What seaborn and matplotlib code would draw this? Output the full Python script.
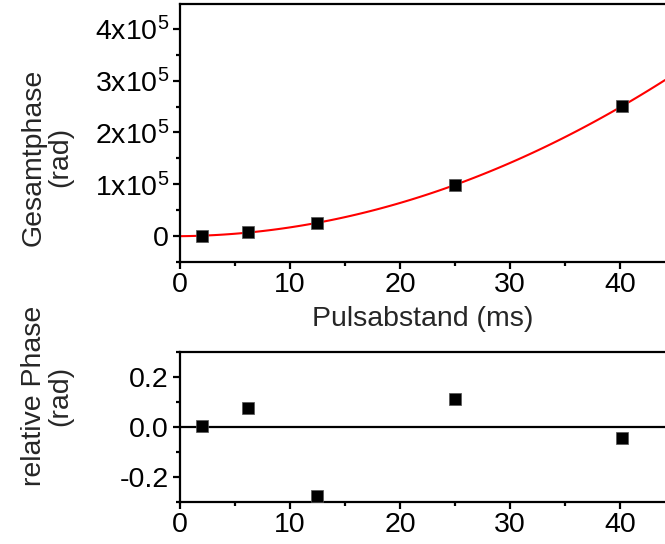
import numpy as np
import pandas as pd
import matplotlib
matplotlib.use("Agg")
import matplotlib.pyplot as plt
from matplotlib.ticker import MultipleLocator, FixedLocator
import seaborn as sns

# ---- data ----
pulse_spacing_ms = [2.0, 6.2, 12.5, 25.0, 40.2]
total_phase_rad = [600, 7000, 26000, 98500, 251000]
relative_phase_rad = [0.004, 0.077, -0.276, 0.111, -0.042]
top_ytick_vals = [0, 1e5, 2e5, 3e5, 4e5]
top_ytick_labels = ["0", "1x10$^5$", "2x10$^5$", "3x10$^5$", "4x10$^5$"]
bottom_ytick_vals = [-0.2, 0.0, 0.2]
bottom_ytick_labels = ["-0.2", "0.0", "0.2"]
xtick_vals = [0, 10, 20, 30, 40]

df = pd.DataFrame({"x": pulse_spacing_ms, "y": total_phase_rad, "r": relative_phase_rad})

sns.set_theme(style="ticks")
plt.rcParams["font.family"] = ["Liberation Sans", "DejaVu Sans"]
plt.rcParams["mathtext.fontset"] = "custom"
plt.rcParams["mathtext.rm"] = "Liberation Sans"
plt.rcParams["mathtext.default"] = "regular"

W, H = 665, 544
fig = plt.figure(figsize=(W / 100, H / 100), dpi=100)
left = 180 / W
ax1 = fig.add_axes([left, 1 - 262 / H, 1 - left, (262 - 4) / H])
ax2 = fig.add_axes([left, 1 - 502 / H, 1 - left, (502 - 352) / H])

XMAX = 44.1
for ax in (ax1, ax2):
    ax.set_xlim(0, XMAX)
    ax.spines["right"].set_visible(False)
    for s in ("left", "top", "bottom"):
        ax.spines[s].set_linewidth(1.6)
        ax.spines[s].set_color("black")
    ax.xaxis.set_major_locator(FixedLocator(xtick_vals))
    ax.xaxis.set_minor_locator(MultipleLocator(5))
    ax.tick_params(which="major", direction="out", length=5, width=1.6,
                   labelsize=20.5, pad=3, colors="black")
    ax.tick_params(which="minor", direction="out", length=3, width=1.6, colors="black")
    ax.tick_params(axis="x", which="major", pad=2)
    ax.set_facecolor("white")

# top panel
ax1.set_ylim(-0.5e5, 4.48e5)
sns.regplot(data=df, x="x", y="y", order=2, ci=None, scatter=False, truncate=False,
            line_kws={"color": "#ff0000", "linewidth": 1.5}, ax=ax1)
ax1.set_xlim(0, XMAX)
sns.scatterplot(data=df, x="x", y="y", marker="s", s=80, color="black",
                edgecolor="#555555", linewidth=0.5, ax=ax1, zorder=5)
ax1.yaxis.set_major_locator(FixedLocator(top_ytick_vals))
ax1.set_yticklabels(top_ytick_labels)
ax1.yaxis.set_minor_locator(MultipleLocator(0.5e5))
ax1.set_ylabel("")
ax1.set_xlabel("Pulsabstand (ms)", fontsize=20.5, labelpad=6)

# bottom panel
ax2.set_ylim(-0.3, 0.3)
ax2.axhline(0, color="black", linewidth=1.6, zorder=1)
sns.scatterplot(data=df, x="x", y="r", marker="s", s=80, color="black",
                edgecolor="#555555", linewidth=0.5, ax=ax2, zorder=5)
ax2.yaxis.set_major_locator(FixedLocator(bottom_ytick_vals))
ax2.set_yticklabels(bottom_ytick_labels)
ax2.yaxis.set_minor_locator(MultipleLocator(0.1))
ax2.set_ylabel("")
ax2.set_xlabel("")

fig.text(47 / W, 1 - 157 / H, "Gesamtphase\n(rad)", rotation=90, ha="center",
         va="center", multialignment="center", fontsize=20.5, linespacing=1.0)
fig.text(47 / W, 1 - 396 / H, "relative Phase\n(rad)", rotation=90, ha="center",
         va="center", multialignment="center", fontsize=20.5, linespacing=1.0)

fig.savefig("out.png", dpi=100, facecolor="white")
